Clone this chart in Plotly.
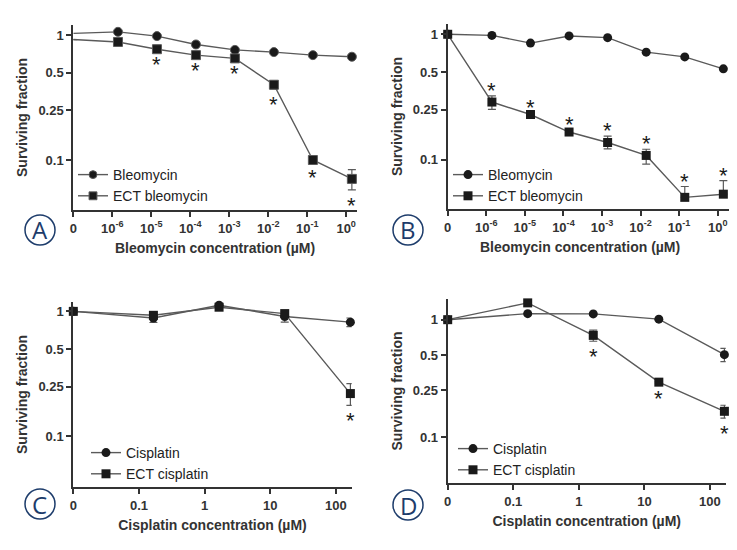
import numpy as np
import plotly.graph_objects as go

# bleomycin panels (µM); 0 is drawn at the axis origin
bleo_conc = [0, 1.4e-6, 1.4e-5, 1.4e-4, 1.4e-3, 1.4e-2, 1.4e-1, 1.4]
bleo_ticks = ["0", "10<sup>-6</sup>", "10<sup>-5</sup>", "10<sup>-4</sup>", "10<sup>-3</sup>",
              "10<sup>-2</sup>", "10<sup>-1</sup>", "10<sup>0</sup>"]

a_bleo = [1.03, 1.06, 0.98, 0.84, 0.76, 0.73, 0.69, 0.67]
a_ect = [0.92, 0.88, 0.77, 0.69, 0.65, 0.40, 0.10, 0.0706]
a_ect_hi = [0, 0, 0, 0, 0, 0.03, 0.004, 0.013]
a_ect_lo = [0, 0, 0, 0, 0, 0.03, 0.004, 0.013]
a_star = [False, False, True, True, True, True, True, True]

b_bleo = [1.0, 0.98, 0.85, 0.97, 0.94, 0.72, 0.66, 0.53]
b_ect = [1.0, 0.288, 0.229, 0.166, 0.137, 0.108, 0.050, 0.053]
b_ect_hi = [0, 0.034, 0.008, 0.007, 0.017, 0.013, 0.011, 0.015]
b_ect_lo = [0, 0.036, 0.008, 0.007, 0.015, 0.016, 0.0, 0.0]
b_star = [False, True, True, True, True, True, True, True]

# cisplatin panels (µM)
cis_conc = [0, 0.166, 1.66, 16.6, 166]
cis_ticks = ["0", "0.1", "1", "10", "100"]

c_cis = [1.0, 0.885, 1.12, 0.91, 0.82]
c_cis_err = [0, 0.07, 0.02, 0.09, 0.065]
c_ect = [1.0, 0.93, 1.08, 0.96, 0.22]
c_ect_hi = [0, 0, 0, 0, 0.044]
c_ect_lo = [0, 0, 0, 0, 0.043]
c_star = [False, False, False, False, True]

d_cis = [1.0, 1.125, 1.12, 1.01, 0.504]
d_cis_err = [0, 0, 0, 0, 0.065]
d_ect = [1.0, 1.39, 0.735, 0.294, 0.166]
d_ect_err = [0, 0, 0.08, 0.005, 0.021]
d_star = [False, False, True, True, True]


def axis_pos(c, first_decade):
    # broken log axis: "0" at the origin, then one unit per decade
    return 0 if c == 0 else np.log10(c) - first_decade + 1


bx = [axis_pos(c, -6) for c in bleo_conc]
cx = [axis_pos(c, -1) for c in cis_conc]

LINE = "#5a5a5a"
MK = "#1a1a1a"
NAVY = "#1d3c6b"
FONT = "Liberation Sans"

fig = go.Figure()


def add_pair(x, y1, y2, name1, name2, ax, legend, err1=None, err2_hi=None, err2_lo=None, sizes=None):
    xa = "x" if ax == 1 else "x%d" % ax
    ya = "y" if ax == 1 else "y%d" % ax
    ms = sizes if sizes is not None else 9
    fig.add_trace(go.Scatter(
        x=x, y=y1, name=name1, mode="lines+markers", xaxis=xa, yaxis=ya, legend=legend,
        line=dict(color=LINE, width=1.4), cliponaxis=False,
        marker=dict(symbol="circle", size=ms, color=MK, opacity=1),
        error_y=dict(type="data", array=err1, color=LINE, thickness=1.2, width=4,
                     visible=err1 is not None)))
    fig.add_trace(go.Scatter(
        x=x, y=y2, name=name2, mode="lines+markers", xaxis=xa, yaxis=ya, legend=legend,
        line=dict(color=LINE, width=1.4), cliponaxis=False,
        marker=dict(symbol="square", size=ms, color=MK, opacity=1),
        error_y=dict(type="data", symmetric=False, array=err2_hi, arrayminus=err2_lo,
                     color=LINE, thickness=1.2, width=4, visible=err2_hi is not None)))


def add_stars(x, y, hi, lo, flags, ax, above):
    xa = "x" if ax == 1 else "x%d" % ax
    ya = "y" if ax == 1 else "y%d" % ax
    for xi, yi, h, l, f in zip(x, y, hi, lo, flags):
        if not f:
            continue
        if above:
            fig.add_annotation(x=xi, y=np.log10(yi + h), xref=xa, yref=ya, text="*", showarrow=False,
                               yanchor="bottom", yshift=-9, font=dict(size=22, color=MK, family=FONT))
        else:
            fig.add_annotation(x=xi, y=np.log10(yi - l), xref=xa, yref=ya, text="*", showarrow=False,
                               yanchor="top", yshift=-1, font=dict(size=22, color=MK, family=FONT))


sizes_a = [0] + [9] * 7
add_pair(bx, a_bleo, a_ect, "Bleomycin", "ECT bleomycin", 1, "legend",
         err2_hi=a_ect_hi, err2_lo=a_ect_lo, sizes=sizes_a)
add_pair(bx, b_bleo, b_ect, "Bleomycin", "ECT bleomycin", 2, "legend2",
         err2_hi=b_ect_hi, err2_lo=b_ect_lo)
add_pair(cx, c_cis, c_ect, "Cisplatin", "ECT cisplatin", 3, "legend3",
         err1=c_cis_err, err2_hi=c_ect_hi, err2_lo=c_ect_lo)
add_pair(cx, d_cis, d_ect, "Cisplatin", "ECT cisplatin", 4, "legend4",
         err1=d_cis_err, err2_hi=d_ect_err, err2_lo=d_ect_err)

add_stars(bx, a_ect, a_ect_hi, a_ect_lo, a_star, 1, False)
add_stars(bx, b_ect, b_ect_hi, b_ect_lo, b_star, 2, True)
add_stars(cx, c_ect, c_ect_hi, c_ect_lo, c_star, 3, False)
add_stars(cx, d_ect, d_ect_err, d_ect_err, d_star, 4, False)

W, H = 737, 550
OFF = 8  # page body margin


def fx(p):
    return (p - OFF) / W


def fy(p):
    return 1 - (p - OFF) / H


tickfont = dict(family=FONT, size=13, color="#333333")
axis_common = dict(showline=True, linecolor="#333333", linewidth=2, ticks="outside",
                   ticklen=5, tickwidth=1.5, tickcolor="#333333", showgrid=False,
                   zeroline=False, tickfont=tickfont, automargin=False,
                   ticklabeloverflow="allow")
font_b = dict(family=FONT, size=14, color="#333333")

layout = dict(width=W, height=H, margin=dict(l=0, r=0, t=0, b=0, autoexpand=False),
              paper_bgcolor="white", plot_bgcolor="white", showlegend=True)

panels = [
    (1, (73.3, 356.7), (25, 210), 8, bleo_ticks, [0, 7.27], [-1.4, 0.08], "Bleomycin concentration (µM)"),
    (2, (447.7, 737), (24, 209), 8, bleo_ticks, [0, 7.5], [-1.394, 0.082], ""),
    (3, (73.3, 351.7), (302, 487), 5, cis_ticks, [0, 4.24], [-1.405, 0.075], "Cisplatin concentration (µM)"),
    (4, (447.7, 725.7), (299, 483), 5, cis_ticks, [0, 4.24], [-1.39, 0.176], "Cisplatin concentration (µM)"),
]
for i, (x0, x1), (top, bot), nt, tt, xr, yr, xt in panels:
    xk = "xaxis" if i == 1 else "xaxis%d" % i
    yk = "yaxis" if i == 1 else "yaxis%d" % i
    anchor_x = "y" if i == 1 else "y%d" % i
    anchor_y = "x" if i == 1 else "x%d" % i
    layout[xk] = dict(axis_common, domain=[fx(x0), fx(x1)], anchor=anchor_x, range=xr,
                      tickvals=list(range(nt)), ticktext=["<b>%s</b>" % t for t in tt],
                      title=dict(text="<b>%s</b>" % xt if xt else "", font=font_b, standoff=9))
    layout[yk] = dict(axis_common, domain=[fy(bot), fy(top)], anchor=anchor_y, type="log", range=yr,
                      tickvals=[0.1, 0.25, 0.5, 1],
                      ticktext=["<b>%s</b>" % t for t in ["0.1", "0.25", "0.5", "1"]],
                      title=dict(text="<b>Surviving fraction</b>", font=font_b, standoff=7))

leg = dict(font=dict(family=FONT, size=14, color="#222222"), bgcolor="rgba(0,0,0,0)",
           xanchor="left", yanchor="top", tracegroupgap=0, itemwidth=30)
layout["legend"] = dict(leg, x=fx(73), y=fy(159))
layout["legend2"] = dict(leg, x=fx(448), y=fy(159))
layout["legend3"] = dict(leg, x=fx(86), y=fy(437))
layout["legend4"] = dict(leg, x=fx(453), y=fy(433))

fig.update_layout(**layout)

# panel B x title (its axis line runs to the edge, so the title is placed by hand)
fig.add_annotation(x=fx(580), y=fy(247), xref="paper", yref="paper",
                   text="<b>Bleomycin concentration (µM)</b>", showarrow=False,
                   xanchor="center", yanchor="middle", font=font_b)

# panel letters
for letter, cx_, cy_ in [("A", 40, 230), ("B", 408, 230), ("C", 40, 504), ("D", 408, 505)]:
    r = 15
    fig.add_shape(type="circle", xref="paper", yref="paper",
                  x0=fx(cx_ - r), x1=fx(cx_ + r), y0=fy(cy_ + r), y1=fy(cy_ - r),
                  line=dict(color=NAVY, width=1.5))
    fig.add_annotation(x=fx(cx_), y=fy(cy_), xref="paper", yref="paper", text=letter,
                       xanchor="center", yanchor="middle", showarrow=False,
                       font=dict(family="Open Sans", size=24, color=NAVY))

fig.write_html("out.html")
